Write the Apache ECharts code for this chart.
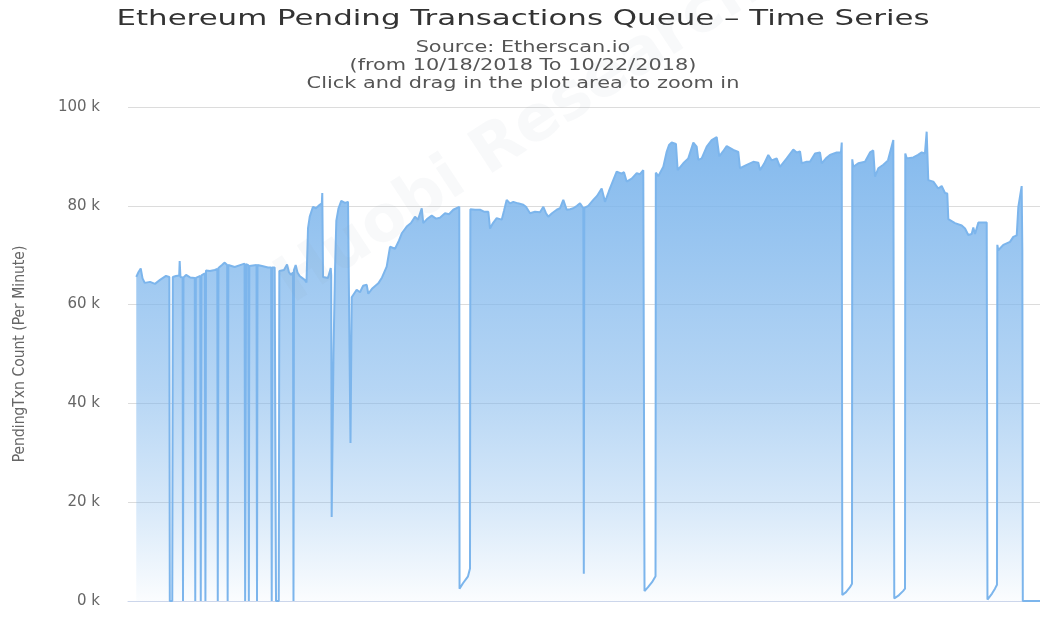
<!DOCTYPE html>
<html>
<head>
<meta charset="utf-8">
<title>Ethereum Pending Transactions Queue</title>
<script src="https://cdn.jsdelivr.net/npm/echarts@6.0.0/dist/echarts.min.js"></script>
<style>
    html, body { margin: 0; padding: 0; background: #fff; }
    #chart { width: 1040px; height: 626px; }
</style>
</head>
<body>
<div id="chart"></div>
<script>
    // hours since 10/18/2018 00:00
    var hours = [
        0.87, 1.11, 1.34, 1.53, 1.76, 2.32, 2.84, 3.37, 4.0, 4.35, 4.4, 4.66, 4.72, 5.05, 5.39, 5.44, 5.52, 5.75, 5.79, 5.84,
        6.11, 6.53, 7.03, 7.08, 7.14, 7.61, 7.66, 7.73, 8.09, 8.15, 8.21, 8.63, 9.13, 9.4, 9.45, 9.52, 9.89, 10.18, 10.44, 10.49,
        10.56, 11.23, 11.79, 12.27, 12.33, 12.38, 12.43, 12.66, 12.72, 12.77, 12.95, 13.53, 13.58, 13.63, 14.11, 14.74, 15.07, 15.13, 15.18, 15.44,
        15.53, 15.58, 15.87, 15.93, 16.11, 16.42, 16.74, 16.95, 17.16, 17.37, 17.42, 17.47, 17.65, 17.84, 18.07, 18.6, 18.79,
        18.95, 19.13, 19.47, 19.79, 20.18, 20.4, 20.45, 20.53, 21.05, 21.34, 21.39, 21.44, 21.63, 21.79, 21.93, 22.16, 22.45, 22.84, 23.16, 23.36,
        23.42, 23.55, 24.07, 24.42, 24.74, 25.13, 25.29, 25.68, 26.35, 26.74, 27.23, 27.58, 28.11, 28.53, 28.84, 29.34, 29.79, 30.21, 30.53, 30.92,
        31.08, 31.47, 31.97, 32.42, 32.84, 33.37, 33.79, 34.24, 34.87,
        34.9, 35.26, 35.79, 36.0,
        36.04, 36.53, 37.05, 37.47, 37.93, 38.11, 38.42, 38.81, 39.34, 39.58, 39.86, 40.21, 40.56, 41.05, 41.61, 41.89, 42.32, 42.84, 43.37, 43.72,
        44.0, 44.24, 44.63, 45.13, 45.47, 45.82, 46.18, 46.53, 46.87, 47.26, 47.58, 47.93, 47.98, 48.03, 48.45, 48.98, 49.37, 49.86, 50.21, 50.63,
        51.08, 51.44, 51.97, 52.21, 52.49, 53.02, 53.55, 53.89, 54.24, 54.32,
        54.37, 54.74, 55.16, 55.53,
        55.56, 55.82, 56.35, 56.71, 56.95, 57.23, 57.68, 57.86, 58.45, 58.98, 59.51, 59.86, 60.03, 60.39, 60.92, 61.44, 61.97, 62.24, 62.63, 63.02,
        63.72, 64.24, 64.42, 65.13, 65.82, 66.35, 66.53, 66.95, 67.4, 67.76, 68.28, 68.63, 69.34, 70.03, 70.39, 70.74, 70.92, 71.37, 71.79, 72.32,
        72.84, 73.02, 73.47, 73.89, 74.6, 75.05, 75.13,
        75.19, 75.58, 76.0, 76.21,
        76.24, 76.35, 76.87, 77.58, 78.11, 78.45, 78.63, 78.98, 79.51, 80.0, 80.21, 80.56,
        80.66, 81.16, 81.58, 81.79,
        81.82, 81.97, 82.66, 83.16, 83.55, 83.89, 84.07, 84.24, 84.77, 85.29, 85.65, 86.0, 86.24, 86.35, 87.05, 87.76, 88.11, 88.45, 88.81, 88.98,
        89.16, 89.51, 90.39,
        90.47, 90.95, 91.26, 91.47,
        91.51, 91.61, 92.14, 92.84, 93.19, 93.55, 93.72, 94.07, 94.14, 94.19, 96.0
    ]

    // pending txn count, thousands
    var pendingK = [
        65.6, 66.6, 67.3, 65.3, 64.4, 64.6, 64.2, 65.0, 65.8, 65.6, 0, 0, 65.6, 65.8, 65.9, 68.8, 65.6, 65.5, 0, 65.5,
        66.0, 65.5, 65.4, 0, 65.4, 65.8, 0, 65.9, 66.3, 0, 66.9, 66.8, 67.0, 67.2, 0, 67.4, 68.0, 68.5, 68.0, 0,
        68.0, 67.6, 68.0, 68.3, 0, 0, 68.2, 68.0, 0, 67.8, 67.5, 68.0, 0, 68.0, 67.8, 67.5, 67.5, 0, 67.5, 67.5,
        67.3, 0, 0, 66.8, 66.5, 67.0, 68.1, 66.5, 66.0, 66.5, 0, 67.0, 68.0, 66.5, 65.8, 65.0, 64.5,
        75.5, 77.8, 79.8, 79.5, 80.2, 80.5, 82.6, 65.6, 65.4, 67.4, 66.0, 17.0, 50.0, 67.0, 77.0, 79.5, 81.0, 80.6, 80.8, 80.4,
        32.0, 61.5, 63.0, 62.5, 63.8, 64.0, 62.2, 63.2, 64.3, 65.5, 67.7, 71.7, 71.3, 73.0, 74.5, 75.8, 76.5, 77.8, 77.2, 79.5,
        76.5, 77.3, 78.0, 77.4, 77.6, 78.5, 78.3, 79.2, 79.8,
        2.5, 3.6, 5.0, 6.6,
        79.3, 79.2, 79.2, 78.8, 78.8, 75.4, 76.5, 77.5, 77.2, 79.0, 81.2, 80.5, 80.8, 80.5, 80.2, 79.8, 78.5, 78.8, 78.7, 79.8,
        78.5, 77.8, 78.5, 79.2, 79.5, 81.2, 79.2, 79.3, 79.5, 80.0, 80.5, 79.5, 5.5, 79.6, 80.0, 81.2, 82.0, 83.5, 80.8, 83.0,
        85.2, 86.9, 86.5, 86.8, 84.9, 85.5, 86.6, 86.4, 87.2, 87.5,
        2.0, 2.8, 3.8, 5.0,
        86.7, 86.0, 87.9, 91.0, 92.3, 92.8, 92.5, 87.2, 88.6, 89.6, 92.8, 92.0, 89.3, 89.6, 92.0, 93.3, 93.9, 90.0, 91.0, 92.1,
        91.3, 90.9, 87.6, 88.3, 88.9, 88.7, 87.2, 88.5, 90.3, 89.2, 89.6, 87.9, 89.6, 91.4, 90.8, 91.0, 88.6, 88.9, 88.9, 90.6,
        90.8, 88.6, 89.6, 90.3, 90.8, 90.8, 92.8,
        1.2, 1.8, 2.8, 3.5,
        89.4, 87.9, 88.6, 88.9, 90.8, 91.2, 85.9, 87.6, 88.3, 89.2, 89.6, 93.3,
        0.5, 1.2, 2.0, 2.5,
        90.6, 89.6, 89.8, 90.3, 90.8, 90.6, 95.0, 85.2, 84.9, 83.5, 84.0, 82.6, 82.5, 77.3, 76.5, 76.0, 75.4, 74.1, 74.3, 75.6,
        74.3, 76.6, 76.6,
        0.3, 1.5, 2.5, 3.3,
        72.1, 71.0, 72.1, 72.7, 73.7, 74.0, 79.8, 84.0, 71.0, 0, 0
    ]

    var yTicks = [0, 20, 40, 60, 80, 100]

    var titleText = 'Ethereum Pending Transactions Queue \u2013 Time Series'
    var subtitleLines = [
        'Source: Etherscan.io',
        '(from 10/18/2018 To 10/22/2018)',
        'Click and drag in the plot area to zoom in'
    ]
    var yAxisTitle = 'PendingTxn Count (Per Minute)'

    var seriesData = hours.map(function (h, i) {
        return [h, pendingK[i]]
    })

    var chart = echarts.init(document.getElementById('chart'))

    // title + subtitle drawn as text, stretched like the reference
    var textItems = [{
        type: 'text',
        x: 523, y: 20,
        scaleX: 1.47,
        style: {
            text: titleText,
            font: '21px "DejaVu Sans"',
            fill: '#333333',
            align: 'center',
            verticalAlign: 'middle'
        }
    }]
    subtitleLines.forEach(function (line, i) {
        textItems.push({
            type: 'text',
            x: 523, y: 48 + i * 18,
            scaleX: 1.39,
            style: {
                text: line,
                font: '15px "DejaVu Sans"',
                fill: '#555555',
                align: 'center',
                verticalAlign: 'middle'
            }
        })
    })
    // faint watermark
    textItems.push({
        type: 'text',
        x: 520, y: 135,
        rotation: 0.58,
        z: 100,
        silent: true,
        style: {
            text: 'Huobi Research',
            font: 'bold 64px "DejaVu Sans"',
            fill: 'rgba(140,150,170,0.06)',
            align: 'center',
            verticalAlign: 'middle'
        }
    })

    chart.setOption({
        animation: false,
        backgroundColor: '#ffffff',
        grid: {
            left: 128,
            right: 0,
            top: 107,
            bottom: 25
        },
        graphic: textItems,
        xAxis: {
            type: 'value',
            min: 0,
            max: 96,
            axisLine: {
                show: true,
                lineStyle: {color: '#ccd6eb', width: 1}
            },
            axisTick: {show: false},
            axisLabel: {show: false},
            splitLine: {show: false}
        },
        yAxis: {
            type: 'value',
            min: yTicks[0],
            max: yTicks[yTicks.length - 1],
            interval: 20,
            name: yAxisTitle,
            nameLocation: 'middle',
            nameRotate: 90,
            nameGap: 100,
            nameTextStyle: {
                color: '#666666',
                fontSize: 15.5,
                fontFamily: 'DejaVu Sans Condensed'
            },
            axisLine: {show: false},
            axisTick: {show: false},
            axisLabel: {
                margin: 28,
                color: '#666666',
                fontSize: 15,
                fontFamily: 'DejaVu Sans',
                formatter: '{value} k'
            },
            splitLine: {
                lineStyle: {color: '#dcdcdc', width: 1}
            }
        },
        series: [{
            name: 'Pending Txn',
            type: 'line',
            data: seriesData,
            showSymbol: false,
            symbol: 'none',
            lineStyle: {color: '#7cb5ec', width: 2},
            itemStyle: {color: '#7cb5ec'},
            areaStyle: {
                origin: 'start',
                opacity: 1,
                color: new echarts.graphic.LinearGradient(0, 0, 0, 1, [
                    {offset: 0, color: 'rgba(124,181,236,0.95)'},
                    {offset: 0.55, color: 'rgba(124,181,236,0.56)'},
                    {offset: 0.8, color: 'rgba(124,181,236,0.3)'},
                    {offset: 1, color: 'rgba(124,181,236,0.03)'}
                ])
            }
        }]
    })
</script>
</body>
</html>
